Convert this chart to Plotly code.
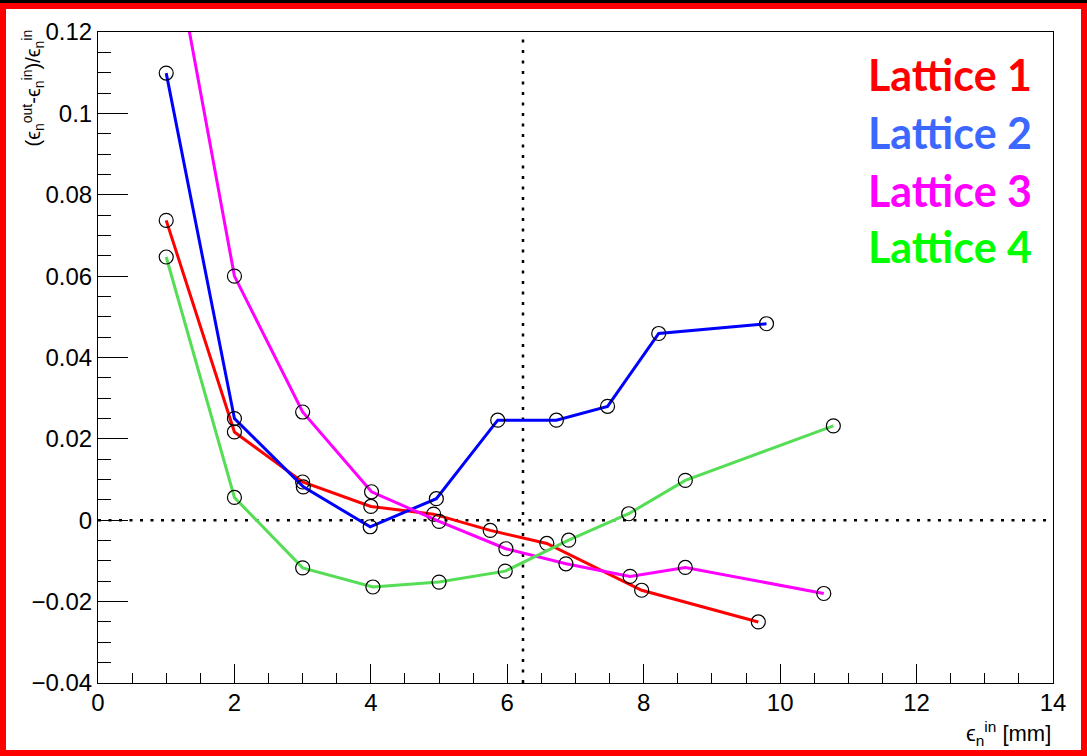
import plotly.graph_objects as go

# ---------------- data ----------------
lat1_x = [1, 2, 3, 4, 4.92, 5.75, 6.58, 7.97, 9.68]
lat1_y = [0.0737, 0.0217, 0.0094, 0.0034, 0.0015, -0.0025, -0.0057, -0.0172, -0.0250]

lat2_x = [1, 2, 3.01, 3.99, 4.96, 5.86, 6.72, 7.47, 8.22, 9.80]
lat2_y = [0.1099, 0.0250, 0.0082, -0.0016, 0.0053, 0.0246, 0.0246, 0.0280, 0.0459, 0.0483]

lat3_x = [1, 2, 3, 4.01, 5.0, 5.98, 6.86, 7.80, 8.61, 10.64]
lat3_y = [0.151, 0.0600, 0.0266, 0.0070, -0.0003, -0.0070, -0.0107, -0.0138, -0.0116, -0.0180]

lat4_x = [1, 2, 3, 4.03, 5.0, 5.97, 6.90, 7.78, 8.61, 10.78]
lat4_y = [0.0647, 0.0056, -0.0117, -0.0164, -0.0152, -0.0125, -0.0049, 0.0016, 0.0098, 0.0232]

series_names = ["Lattice 1", "Lattice 2", "Lattice 3", "Lattice 4"]
line_colors = ["#ff0000", "#0000ff", "#ff00ff", "#55dd55"]
text_colors = ["#ff0000", "#3d68ff", "#ff00ff", "#00ff00"]

x_tickvals = [0, 2, 4, 6, 8, 10, 12, 14]
x_ticktext = ["0", "2", "4", "6", "8", "10", "12", "14"]
y_tickvals = [-0.04, -0.02, 0, 0.02, 0.04, 0.06, 0.08, 0.1, 0.12]
y_ticktext = ["\u22120.04", "\u22120.02", "0", "0.02", "0.04", "0.06", "0.08", "0.1", "0.12"]

x_range = [0, 14]
y_range = [-0.04, 0.12]
vline_x = 6.23
hline_y = 0.0

# ---------------- geometry ----------------
W, H = 1087, 756
L, R, T, B = 98, 34, 32, 73
PW, PH = W - L - R, H - T - B


def px_x(p):
    return (p - L) / PW


def px_y(p):
    return (H - B - p) / PH


fig = go.Figure()

for xs, ys, name, col in zip([lat1_x, lat2_x, lat3_x, lat4_x],
                             [lat1_y, lat2_y, lat3_y, lat4_y],
                             series_names, line_colors):
    fig.add_trace(go.Scatter(
        x=xs, y=ys, name=name, mode="lines+markers",
        line=dict(color=col, width=3),
        marker=dict(symbol="circle-open", size=14, color="black",
                    line=dict(width=1.2, color="black")),
        showlegend=False,
    ))

font_ticks = dict(family="Liberation Sans, Arial, sans-serif", size=24, color="black")

fig.update_xaxes(
    range=x_range, tickvals=x_tickvals, ticktext=x_ticktext,
    ticks="inside", ticklen=19, tickwidth=1, tickcolor="black",
    minor=dict(dtick=0.5, ticks="inside", ticklen=10, tickwidth=1, tickcolor="black"),
    showline=True, linecolor="black", linewidth=1, mirror=True,
    showgrid=False, zeroline=False, tickfont=font_ticks,
    ticklabelstandoff=-2,
)
fig.update_yaxes(
    range=y_range, tickvals=y_tickvals, ticktext=y_ticktext,
    ticks="inside", ticklen=30, tickwidth=1, tickcolor="black",
    minor=dict(dtick=0.005, ticks="inside", ticklen=13, tickwidth=1, tickcolor="black"),
    showline=True, linecolor="black", linewidth=1, mirror=True,
    showgrid=False, zeroline=False, tickfont=font_ticks,
)

shapes = [
    dict(type="line", xref="x", yref="y", x0=x_range[0], x1=x_range[1], y0=hline_y, y1=hline_y,
         line=dict(color="black", width=2.5, dash="3px,7.5px"), layer="below"),
    dict(type="line", xref="x", yref="y", x0=vline_x, x1=vline_x, y0=y_range[0], y1=y_range[1],
         line=dict(color="black", width=2.5, dash="3px,7.5px"), layer="below"),
    # frame
    dict(type="rect", xref="paper", yref="paper",
         x0=px_x(3), x1=px_x(W - 3), y0=px_y(H - 3), y1=px_y(6),
         line=dict(color="#ff0000", width=6), fillcolor="rgba(0,0,0,0)", layer="above"),
    dict(type="rect", xref="paper", yref="paper",
         x0=px_x(0), x1=px_x(W), y0=px_y(3), y1=px_y(0),
         line=dict(width=0), fillcolor="black", layer="above"),
]

annotations = []
legend_y = [75, 132, 190, 247]
for name, col, yp in zip(series_names, text_colors, legend_y):
    annotations.append(dict(
        xref="paper", yref="paper", x=px_x(866), y=px_y(yp),
        xanchor="left", yanchor="middle", showarrow=False,
        text="<b>%s</b>" % name,
        font=dict(family="Lato, Open Sans, sans-serif", size=43, color=col),
    ))

title_font = dict(family="Liberation Sans, DejaVu Sans, sans-serif", size=22, color="black")
# x axis title
annotations.append(dict(
    xref="paper", yref="paper", x=px_x(1053), y=px_y(733),
    xanchor="right", yanchor="middle", showarrow=False,
    text="\u03f5<sub>n</sub><sup>in</sup> [mm]", font=title_font,
))
# y axis title
annotations.append(dict(
    xref="paper", yref="paper", x=px_x(33), y=px_y(28),
    xanchor="center", yanchor="top", showarrow=False, textangle=-90,
    text="(\u03f5<sub>n</sub><sup>out</sup>-\u03f5<sub>n</sub><sup>in</sup>)/\u03f5<sub>n</sub><sup>in</sup>",
    font=dict(family="Liberation Sans, DejaVu Sans, sans-serif", size=20, color="black"),
))

fig.update_layout(
    width=W, height=H, autosize=False,
    margin=dict(l=L, r=R, t=T, b=B, pad=0),
    paper_bgcolor="white", plot_bgcolor="white",
    shapes=shapes, annotations=annotations,
    showlegend=False,
)

fig.write_html(
    "out.html",
    config={"displayModeBar": False},
    post_script="document.body.style.margin='0';document.body.style.padding='0';",
)
